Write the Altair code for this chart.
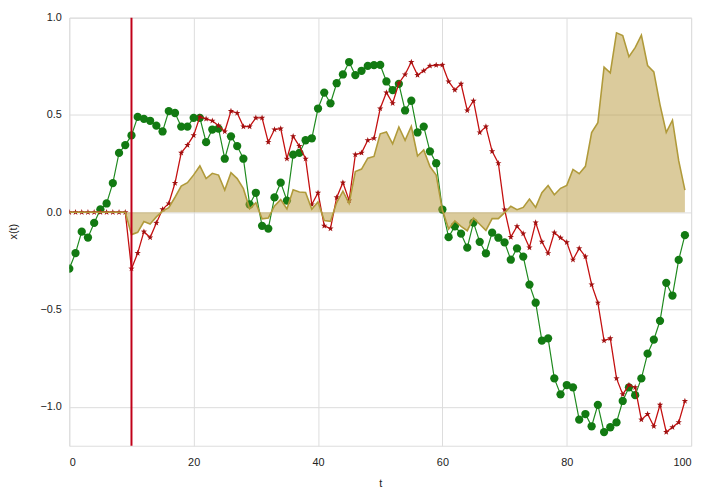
import altair as alt
import pandas as pd

t = list(range(100))

green = [
    -0.29, -0.21, -0.10, -0.13, -0.055, 0.015, 0.045, 0.15, 0.305, 0.345,
    0.395, 0.49, 0.48, 0.47, 0.445, 0.415, 0.52, 0.51, 0.44, 0.44,
    0.485, 0.485, 0.36, 0.425, 0.43, 0.275, 0.39, 0.34, 0.275, 0.04,
    0.10, -0.07, -0.084, 0.076, 0.152, 0.06, 0.296, 0.305, 0.37, 0.38,
    0.533, 0.615, 0.56, 0.663, 0.708, 0.772, 0.705, 0.727, 0.752, 0.756,
    0.757, 0.672, 0.628, 0.66, 0.523, 0.573, 0.41, 0.44, 0.313, 0.252,
    0.014, -0.128, -0.072, -0.11, -0.182, -0.053, -0.152, -0.211, -0.105, -0.131,
    -0.155, -0.244, -0.186, -0.228, -0.372, -0.465, -0.66, -0.648, -0.854, -0.936,
    -0.888, -0.90, -1.066, -1.037, -1.10, -0.99, -1.13, -1.105, -1.08, -0.97,
    -0.90, -0.94, -0.854, -0.727, -0.655, -0.558, -0.363, -0.428, -0.245, -0.118,
]

red = [
    0.0, 0.0, 0.0, 0.0, 0.0, 0.0, 0.0, 0.0, 0.0, 0.0,
    -0.29, -0.21, -0.10, -0.13, -0.055, 0.015, 0.045, 0.15, 0.305, 0.345,
    0.395, 0.49, 0.48, 0.47, 0.445, 0.415, 0.52, 0.51, 0.44, 0.44,
    0.485, 0.485, 0.36, 0.425, 0.43, 0.275, 0.39, 0.34, 0.275, 0.04,
    0.10, -0.07, -0.084, 0.076, 0.152, 0.06, 0.296, 0.305, 0.37, 0.38,
    0.533, 0.615, 0.56, 0.663, 0.708, 0.772, 0.705, 0.727, 0.752, 0.756,
    0.757, 0.672, 0.628, 0.66, 0.523, 0.573, 0.41, 0.44, 0.313, 0.252,
    0.014, -0.128, -0.072, -0.11, -0.182, -0.053, -0.152, -0.211, -0.105, -0.131,
    -0.155, -0.244, -0.186, -0.228, -0.372, -0.465, -0.66, -0.648, -0.854, -0.936,
    -0.888, -0.90, -1.066, -1.037, -1.10, -0.99, -1.13, -1.105, -1.08, -0.97,
]

tan = [
    0.0, 0.0, 0.0, 0.0, 0.0, 0.0, 0.0, 0.0, 0.0, 0.0,
    -0.115, -0.103, -0.048, -0.061, -0.024, 0.006, 0.023, 0.077, 0.134, 0.152,
    0.192, 0.238, 0.173, 0.200, 0.191, 0.114, 0.203, 0.173, 0.121, 0.018,
    0.049, -0.034, -0.030, 0.032, 0.065, 0.017, 0.115, 0.104, 0.102, 0.015,
    0.053, -0.043, -0.047, 0.050, 0.108, 0.046, 0.209, 0.222, 0.278, 0.287,
    0.403, 0.413, 0.352, 0.438, 0.370, 0.442, 0.289, 0.320, 0.235, 0.191,
    0.011, -0.086, -0.045, -0.073, -0.095, -0.030, -0.062, -0.093, -0.033, -0.033,
    -0.002, 0.031, 0.013, 0.025, 0.068, 0.025, 0.100, 0.137, 0.090, 0.123,
    0.138, 0.220, 0.198, 0.236, 0.409, 0.460, 0.746, 0.716, 0.922, 0.908,
    0.799, 0.846, 0.910, 0.754, 0.721, 0.552, 0.410, 0.473, 0.265, 0.114,
]

x_ticks = [0, 20, 40, 60, 80, 100]
y_ticks = [-1.0, -0.5, 0.0, 0.5, 1.0]

df = pd.DataFrame({"t": t, "green": green, "red": red, "tan": tan})

FONT = "Liberation Sans"

x_enc = alt.X(
    "t:Q",
    scale=alt.Scale(domain=[0, 100], nice=False, zero=False),
    axis=alt.Axis(
        values=x_ticks, title="t", grid=True, ticks=False, domain=False,
        labelPadding=11, titleY=38, titleBaseline="middle",
        labelFont=FONT, labelFontSize=11, labelColor="#222222",
        titleFont=FONT, titleFontSize=11, titleFontWeight="normal", titleColor="#222222",
    ),
)


def y_enc(field):
    return alt.Y(
        f"{field}:Q",
        scale=alt.Scale(domain=[-1.2, 1.0], nice=False, zero=False),
        axis=alt.Axis(
            values=y_ticks, format=".1f", title="x(t)", grid=True, ticks=False, domain=False,
            labelPadding=8, titleX=-56, titleY=216, titleBaseline="middle", titleAlign="center",
            labelFont=FONT, labelFontSize=11, labelColor="#222222",
            titleFont=FONT, titleFontSize=11, titleFontWeight="normal", titleColor="#222222",
        ),
    )


base = alt.Chart(df)

green_line = base.mark_line(color="#1f8a1f", strokeWidth=1.2, clip=True).encode(x=x_enc, y=y_enc("green"))
green_pts = base.mark_point(shape="circle", filled=True, size=70, color="#127a12", opacity=1, clip=True).encode(
    x=x_enc, y=y_enc("green"))

star = "M0,-1L0.235,-0.324L0.951,-0.309L0.38,0.124L0.588,0.809L0,0.4L-0.588,0.809L-0.38,0.124L-0.951,-0.309L-0.235,-0.324Z"
red_line = base.mark_line(color="#c41010", strokeWidth=1.3, clip=True).encode(x=x_enc, y=y_enc("red"))
red_pts = base.mark_point(shape=star, filled=True, size=45, color="#a01010", opacity=1, clip=True).encode(
    x=x_enc, y=y_enc("red"))

tan_area = base.mark_area(color="#b8983a", opacity=0.5, clip=True).encode(
    x=x_enc, y=y_enc("tan"), y2=alt.datum(0))
tan_line = base.mark_line(color="#b09a3a", strokeWidth=1.6, clip=True).encode(x=x_enc, y=y_enc("tan"))

vline = alt.Chart(pd.DataFrame({"t0": [10]})).mark_rule(color="#c00018", strokeWidth=2).encode(
    x=alt.X("t0:Q", scale=alt.Scale(domain=[0, 100], nice=False, zero=False)))

chart = alt.layer(green_line, green_pts, red_line, red_pts, tan_area, tan_line, vline).properties(
    width=629, height=433,
    autosize=alt.AutoSizeParams(type="none"),
    padding={"left": 62, "top": 7, "right": 11, "bottom": 41},
).configure_view(stroke="#999999", strokeWidth=1.2).configure_axis(
    gridColor="#bcbcbc", gridWidth=1.2
).configure(background="white")

chart.save("out.html", embed_options={"renderer": "svg", "actions": False})
